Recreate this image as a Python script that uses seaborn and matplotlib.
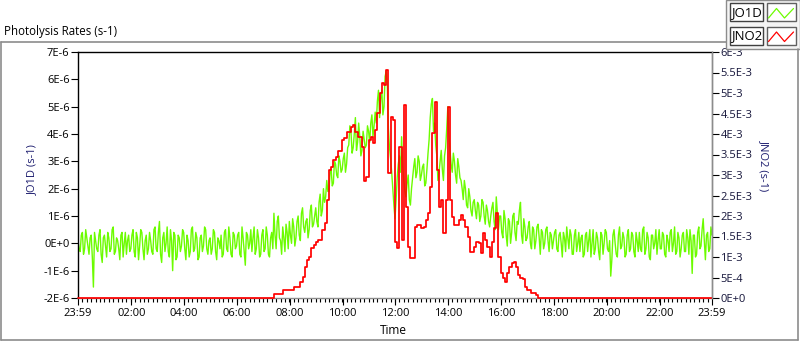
import numpy as np
import pandas as pd
import matplotlib
matplotlib.use("Agg")
import matplotlib.pyplot as plt
import matplotlib.ticker as mticker
from matplotlib.patches import Rectangle
from matplotlib.lines import Line2D
import seaborn as sns

# ---------------- data ----------------
# samples every 5 minutes from 23:59 (previous day) to 23:59
start_minute = -1
step_minutes = 5
# second, interleaved JO1D sample set, offset by 2.5 minutes
offset_minutes = 2.5

# JO1D in units of 1E-6 s-1 (one row per hour, 12 samples each; last row 13)
jo1d_e6 = [
    0.1, -0.3, 0.4, -0.2, 0.2, -0.4, 0.3, -1.6, 0.1, -0.3, 0.5, -0.7,
    0.3, -0.5, 0.2, -0.2, 0.6, -0.3, 0.1, -0.6, 0.4, 0.0, -0.4, 0.3,
    -0.2, 0.5, -0.5, 0.2, -0.1, 0.4, -0.6, 0.3, -0.2, 0.1, -0.4, 0.6,
    -0.3, 0.8, -0.7, 0.4, 0.0, -0.3, 0.5, -1.0, 0.3, -0.5, 0.2, -0.1,
    0.4, -0.6, 0.1, -0.3, 0.6, -0.2, 0.2, -0.5, 0.3, -0.1, 0.5, -0.4,
    0.2, -0.2, 0.4, -0.6, 0.1, 0.3, -0.4, 0.5, -0.3, 0.2, -0.5, 0.3,
    -0.1, 0.4, -0.5, 0.2, -0.8, 0.3, 0.0, -0.3, 0.6, -0.2, 0.2, -0.4,
    0.5, -0.2, 0.3, -0.5, 0.4, 1.1, -0.2, 1.0, 0.1, 0.6, -0.3, 0.4,
    0.8, 0.0, 0.6, 0.2, 1.0, 0.1, 1.3, 0.4, 0.9, 0.5, 1.4, 0.7,
    1.3, 0.6, 1.8, 1.2, 1.5, 2.3, 1.9, 2.7, 2.2, 2.9, 2.4, 3.0,
    2.7, 3.3, 2.9, 3.6, 4.1, 3.5, 4.6, 3.7, 3.9, 3.4, 3.8, 3.6,
    4.1, 4.4, 3.9, 4.8, 5.2, 4.6, 5.6, 5.0, 6.3, 4.2, 3.1, 2.0,
    0.9, 2.4, 3.2, 3.9, 2.3, 1.7, 2.5, 1.4, 2.4, 3.1, 2.6, 3.0,
    2.5, 2.9, 2.2, 3.3, 4.6, 5.3, 4.4, 3.2, 2.6, 3.4, 2.3, 3.5,
    5.0, 3.4, 2.6, 3.0, 2.2, 2.8, 2.3, 1.6, 2.0, 1.3, 1.7, 1.0,
    1.6, 0.9, 1.4, 1.0, 1.5, 0.7, 1.2, 0.6, 1.3, 0.8, 1.7, 0.5,
    1.0, 0.2, 0.9, -0.1, 0.8, 0.4, 1.1, 0.1, 0.7, 1.5, 0.0, 0.6,
    0.2, 0.8, -0.2, 0.5, 0.1, 0.7, -0.4, 0.4, 0.0, 0.6, -0.3, 0.3,
    0.1, 0.5, -0.3, 0.4, -0.5, 0.2, 0.6, -0.2, 0.3, -0.4, 0.5, 0.0,
    -0.3, 0.3, -0.4, 0.4, 0.1, -0.5, 0.5, -0.2, 0.2, -0.6, 0.3, 0.0,
    0.4, -0.3, -1.2, 0.3, 0.0, -0.5, 0.6, -0.1, 0.2, -0.4, 0.5, -0.2,
    0.3, -0.5, 0.1, 0.4, -0.3, 0.6, -0.2, 0.2, -0.6, 0.3, 0.0, -0.4,
    0.5, -0.2, 0.3, -0.5, 0.1, 0.4, -0.3, 0.6, -0.3, 0.2, -0.2, 0.4,
    -0.3, 0.2, 0.5, -1.1, 0.3, -0.4, 0.6, -0.1, 0.9, -0.6, 0.4, -0.2, 0.3,
]

# JO1D (1E-6 s-1) read at the in-between times (00:01:30, 00:06:30, ...)
jo1d_mid_e6 = [
    -0.2, 0.3, -0.4, 0.5, -0.1, 0.2, -0.5, 0.4, -0.2, 0.3, -0.4, 0.2,
    -0.1, 0.4, -0.3, 0.5, -0.4, 0.2, -0.2, 0.3, -0.5, 0.4, 0.1, -0.3,
    0.3, -0.3, 0.4, -0.6, 0.5, -0.2, 0.1, -0.4, 0.4, -0.3, 0.5, -0.2,
    0.4, -0.4, 0.2, -0.3, 0.6, -0.5, 0.1, 0.4, -0.6, 0.3, -0.3, 0.5,
    -0.2, 0.3, -0.5, 0.5, -0.3, 0.4, -0.6, 0.2, -0.3, 0.6, -0.2, 0.1,
    -0.4, 0.5, -0.3, 0.2, -0.2, -0.5, 0.4, -0.2, 0.6, -0.4, 0.4, -0.2,
    0.3, -0.4, 0.6, -0.3, 0.4, -0.2, 0.5, 0.2, -0.4, 0.5, -0.5, 0.3,
    -0.3, 0.6, -0.4, 0.2, -0.2, 0.3, 0.8, 0.2, -0.4, 0.2, 0.7, -0.2,
    0.3, 0.9, -0.1, 0.8, 0.3, 1.1, 0.6, 0.8, 0.2, 1.2, 0.6, 1.0,
    0.8, 1.5, 1.0, 2.0, 1.7, 1.9, 2.6, 2.1, 3.0, 2.5, 3.2, 2.6,
    3.1, 2.6, 3.5, 4.3, 3.3, 4.0, 3.4, 4.4, 3.2, 4.1, 3.5, 4.3,
    3.7, 4.7, 4.3, 4.4, 5.6, 5.3, 4.7, 6.1, 5.8, 3.5, 2.6, 1.4,
    1.6, 2.9, 2.6, 2.8, 1.9, 2.2, 1.6, 2.0, 2.8, 2.4, 3.2, 2.3,
    2.8, 2.1, 2.7, 3.8, 5.1, 4.1, 3.6, 2.3, 3.0, 2.7, 3.2, 4.2,
    4.0, 2.9, 3.3, 2.5, 3.1, 2.4, 2.0, 2.3, 1.4, 2.0, 1.2, 1.5,
    1.2, 1.5, 0.8, 1.6, 1.0, 1.4, 0.8, 1.0, 1.5, 0.5, 1.1, 1.0,
    0.4, 1.2, 0.3, 0.9, 0.0, 1.0, 0.4, 0.8, 1.2, 0.3, 0.9, 0.1,
    0.6, 0.0, 0.6, -0.2, 0.6, 0.2, 0.5, -0.2, 0.5, 0.1, 0.4, -0.2,
    0.4, -0.2, 0.3, 0.0, 0.4, -0.3, 0.2, 0.5, -0.4, 0.3, -0.3, 0.4,
    0.2, -0.5, 0.3, -0.3, 0.5, 0.0, -0.4, 0.4, -0.3, 0.4, -0.4, 0.5,
    -0.2, 0.1, -0.6, 0.5, -0.4, 0.3, -0.2, 0.4, -0.5, 0.3, -0.3, 0.4,
    -0.3, 0.4, -0.3, -0.2, 0.5, -0.4, 0.4, -0.5, 0.3, -0.2, 0.5, 0.1,
    -0.2, 0.4, -0.4, 0.3, -0.3, 0.5, 0.0, -0.4, 0.4, -0.5, 0.3, -0.3,
    0.5, -0.4, 0.1, 0.3, -0.5, 0.4, -0.2, 0.5, 0.1, 0.3, -0.3, 0.6,
]

# JNO2 in units of 1E-3 s-1 (5-minute grid)
jno2_night_before = [0.0] * 89
jno2_day_e3 = [
    0.09, 0.09, 0.09, 0.09, 0.2, 0.2, 0.2, 0.2, 0.2, 0.27, 0.27, 0.27,
    0.4, 0.52, 0.76, 0.93, 1.0, 1.22, 1.29, 1.37, 1.41, 1.41, 1.66, 1.83,
    2.39, 3.12, 3.2, 3.37, 3.45, 3.59, 3.59, 3.85, 3.9, 4.06, 4.06, 4.18,
    4.22, 4.06, 3.93, 3.93, 3.69, 2.85, 2.96, 3.85, 3.93, 3.78, 4.1, 4.5,
    5.0, 5.24, 5.2, 5.56, 3.05, 4.42, 4.34, 1.37, 1.22, 3.69, 1.41, 4.7,
    2.23, 1.25, 0.97, 0.97, 1.74, 1.78, 1.78, 1.7, 1.74, 1.9, 2.07, 2.71,
    4.02, 4.79, 3.12, 2.23, 2.39, 1.58, 2.39, 4.67, 2.39, 1.98, 1.78, 1.78,
    1.9, 2.02, 1.9, 1.74, 1.5, 1.13, 1.13, 1.25, 1.37, 1.33, 1.09, 1.58,
    1.41, 1.25, 1.0, 1.37, 1.7, 2.07, 1.0, 0.61, 0.49, 0.4, 0.61, 0.76,
    0.85, 0.89, 0.76, 0.56, 0.49, 0.46, 0.28, 0.2, 0.2, 0.12, 0.12, 0.08,
]
jno2_night_after = [0.0] * 80
jno2_e3 = jno2_night_before + jno2_day_e3 + jno2_night_after

left_ticks = [-2e-6, -1e-6, 0, 1e-6, 2e-6, 3e-6, 4e-6, 5e-6, 6e-6, 7e-6]
left_labels = ["-2E-6", "-1E-6", "0E+0", "1E-6", "2E-6", "3E-6", "4E-6", "5E-6", "6E-6", "7E-6"]
right_ticks = [0, 5e-4, 1e-3, 1.5e-3, 2e-3, 2.5e-3, 3e-3, 3.5e-3, 4e-3, 4.5e-3, 5e-3, 5.5e-3, 6e-3]
right_labels = ["0E+0", "5E-4", "1E-3", "1.5E-3", "2E-3", "2.5E-3", "3E-3", "3.5E-3",
                "4E-3", "4.5E-3", "5E-3", "5.5E-3", "6E-3"]
x_tick_hours = [-1 / 60, 2, 4, 6, 8, 10, 12, 14, 16, 18, 20, 22, 24 - 1 / 60]
x_tick_labels = ["23:59", "02:00", "04:00", "06:00", "08:00", "10:00", "12:00",
                 "14:00", "16:00", "18:00", "20:00", "22:00", "23:59"]

hours = [(start_minute + i * step_minutes) / 60 for i in range(len(jo1d_e6))]
hours_mid = [(start_minute + offset_minutes + i * step_minutes) / 60
             for i in range(len(jo1d_mid_e6))]

df_o1d = pd.concat([
    pd.DataFrame({"hours": hours, "JO1D": np.array(jo1d_e6) * 1e-6}),
    pd.DataFrame({"hours": hours_mid, "JO1D": np.array(jo1d_mid_e6) * 1e-6}),
]).sort_values("hours").reset_index(drop=True)
df_no2 = pd.DataFrame({"hours": hours, "JNO2": np.array(jno2_e3) * 1e-3})

# ---------------- style ----------------
sns.set_style("white")
plt.rcParams["font.family"] = ["Open Sans", "DejaVu Sans"]

GREEN = "#6CFC00"
RED = "#FF0000"
NAVY = "#1c1c6e"
GRAY = "#8c8c8c"

W, H = 800, 342
fig = plt.figure(figsize=(8.0, 3.42), dpi=100)
fig.patch.set_facecolor("white")

def fx(px):
    return px / W

def fy(py):
    return 1 - py / H

ax = fig.add_axes([fx(78), fy(298), fx(712) - fx(78), fy(52) - fy(298)])
ax.set_facecolor("white")

sns.lineplot(data=df_o1d, x="hours", y="JO1D", ax=ax, color=GREEN, linewidth=1.0,
             estimator=None, sort=False, legend=False)

ax2 = ax.twinx()
sns.lineplot(data=df_no2, x="hours", y="JNO2", ax=ax2, color=RED, linewidth=1.25,
             drawstyle="steps-post", estimator=None, sort=False, legend=False,
             clip_on=False)

ax.set_xlim(-1 / 60, 24 - 1 / 60)
ax.set_ylim(-2e-6, 7e-6)
ax2.set_ylim(0, 6e-3)

ax.set_yticks(left_ticks)
ax.set_yticklabels(left_labels)
ax2.set_yticks(right_ticks)
ax2.set_yticklabels(right_labels)
ax.set_xticks(x_tick_hours)
ax.set_xticklabels(x_tick_labels)
ax.xaxis.set_minor_locator(mticker.FixedLocator(
    [h / 6 - 1 / 60 for h in range(0, 145)]))

ax.tick_params(axis="y", which="major", direction="out", length=5, width=0.8,
               labelsize=8, pad=1, colors="black", left=True)
ax.tick_params(axis="x", which="major", direction="out", length=5, width=0.8,
               labelsize=8, pad=2, colors="black", bottom=True)
ax.tick_params(axis="x", which="minor", direction="out", length=3, width=0.8,
               colors="black", bottom=True)
ax2.tick_params(axis="y", direction="out", length=5, width=0.8, labelsize=8,
                pad=1, colors="black", labelcolor="#15153a", right=True)

for a in (ax, ax2):
    a.set_xlabel("")
    a.set_ylabel("")
ax.spines["left"].set_color("black")
ax.spines["top"].set_color("black")
ax.spines["bottom"].set_color(GRAY)
ax.spines["right"].set_color(GRAY)
ax2.spines["left"].set_visible(False)
ax2.spines["top"].set_visible(False)
ax2.spines["bottom"].set_visible(False)
ax2.spines["right"].set_color(GRAY)
for s in ax.spines.values():
    s.set_linewidth(1.0)
ax2.spines["right"].set_linewidth(1.0)

# axis labels
fig.text(fx(33), fy(170), "JO1D (s-1)", rotation=90, ha="center", va="center",
         fontsize=8, color=NAVY)
fig.text(fx(764), fy(166), "JNO2 (s-1)", rotation=270, ha="center", va="center",
         fontsize=8, color=NAVY)
fig.text(fx(393), fy(331), "Time", ha="center", va="center", fontsize=8.5,
         color="black")
fig.text(fx(4), fy(31), "Photolysis Rates (s-1)", ha="left", va="center",
         fontsize=8.3, color="black")

# outer panel frame
frame_kw = dict(color=GRAY, linewidth=1.2, transform=fig.transFigure)
fig.add_artist(Line2D([fx(1), fx(1)], [fy(42), fy(340)], **frame_kw))
fig.add_artist(Line2D([fx(1), fx(798)], [fy(340), fy(340)], **frame_kw))
fig.add_artist(Line2D([fx(798), fx(798)], [fy(49), fy(340)], **frame_kw))
fig.add_artist(Line2D([fx(1), fx(726)], [fy(42), fy(42)], **frame_kw))

# legend panel
fig.add_artist(Rectangle((fx(726), fy(49)), fx(800) - fx(726), fy(0) - fy(49),
                         transform=fig.transFigure, facecolor="#f4f4f4",
                         edgecolor=GRAY, linewidth=1.0))
for row, (name, col) in enumerate([("JO1D", GREEN), ("JNO2", RED)]):
    top = 3.5 + row * 23.5
    bot = top + 17.5
    fig.add_artist(Rectangle((fx(730), fy(bot)), fx(763) - fx(730), fy(top) - fy(bot),
                             transform=fig.transFigure, facecolor="white",
                             edgecolor="#404040", linewidth=1.0))
    fig.text(fx(746.5), fy((top + bot) / 2), name, ha="center", va="center",
             fontsize=9.5, color="black")
    fig.add_artist(Rectangle((fx(767), fy(bot)), fx(796) - fx(767), fy(top) - fy(bot),
                             transform=fig.transFigure, facecolor="white",
                             edgecolor="#606060", linewidth=1.0))
    fig.add_artist(Line2D([fx(768.5), fx(776.5), fx(784.5), fx(793.5)],
                          [fy(bot - 3), fy(top + 5), fy(bot - 3), fy(top + 5)],
                          color=col, linewidth=0.9, transform=fig.transFigure))

fig.savefig("out.png", dpi=100, facecolor="white")
